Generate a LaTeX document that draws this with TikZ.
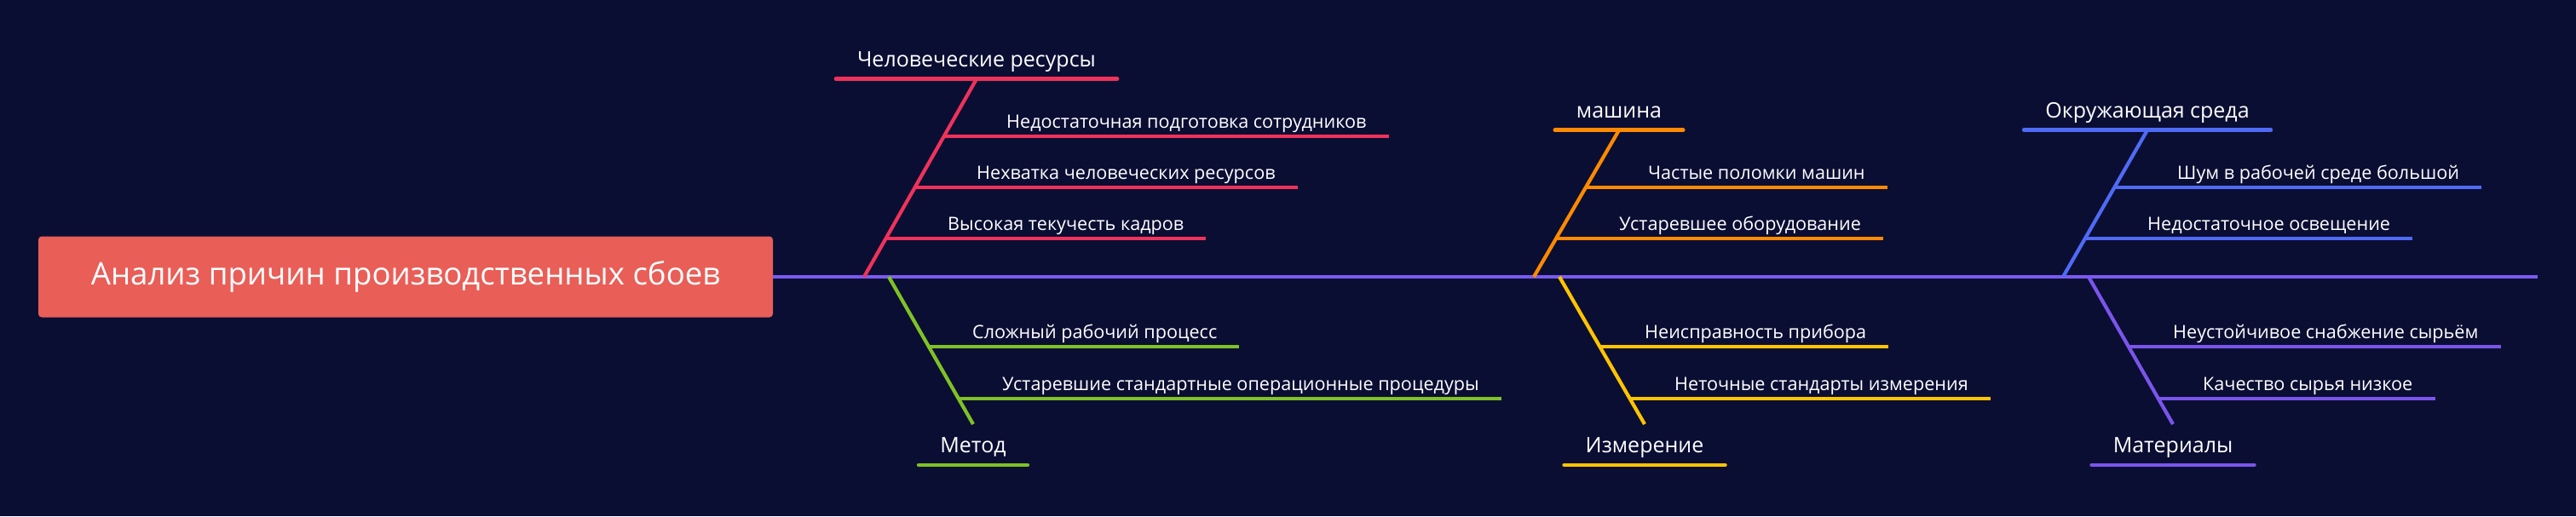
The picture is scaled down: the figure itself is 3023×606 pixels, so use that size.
\documentclass[tikz,border=0pt]{standalone}
\usepackage{fontspec}
\setmainfont{Open Sans}
\usetikzlibrary{calc}
\definecolor{cBg}{HTML}{0B0E33}
\definecolor{cBox}{HTML}{E95E57}
\definecolor{cSpine}{HTML}{7A5AF0}
\definecolor{cRed}{HTML}{F0325A}
\definecolor{cGreen}{HTML}{7EC225}
\definecolor{cOrange}{HTML}{FF8A00}
\definecolor{cYellow}{HTML}{FFC400}
\definecolor{cBlue}{HTML}{4F6BF5}
\definecolor{cPurple}{HTML}{7A55EC}
\begin{document}
\begin{tikzpicture}[x=1pt,y=-1pt,
  titlebox/.style={fill=cBox, rounded corners=4pt, minimum width=862pt, minimum height=95pt,
    inner sep=0pt, text=white, font=\fontsize{36.6}{40}\selectfont},
  subtxt/.style={anchor=base west, inner sep=0pt, text=white, font=\fontsize{21.6}{24}\selectfont},
  hdtxt/.style={anchor=base, inner sep=0pt, text=white, font=\fontsize{25}{28}\selectfont},
  spine/.style={draw=cSpine, line width=4.5pt},
  bone/.style={line width=4.2pt},
  hline/.style={line width=4.5pt, line cap=round}]
\fill[cBg] (0,0) rectangle (3023,606);
\useasboundingbox (0,0) rectangle (3023,606);

% title and spine
\node[titlebox] (title) at (476,325) {Анализ причин производственных сбоев};
\coordinate (spE) at (2978,325);
\draw[spine] (title.east) -- (spE);

% ---------- red: upper ----------
\coordinate (r0) at (1014,325);
\coordinate (r1) at (1146,92.7);
\node[hdtxt] (rh) at (1146,78.4) {Человеческие ресурсы};
\draw[hline,cRed] ($(rh.west |- r1)+(-25,0)$) -- ($(rh.east |- r1)+(25,0)$);
\draw[bone,cRed] (r0) -- (r1);
\coordinate (ra) at (1108,160);
\coordinate (rb) at (1074,220);
\coordinate (rc) at (1040,280);
\node[subtxt] (rat) at (1181,150) {Недостаточная подготовка сотрудников};
\node[subtxt] (rbt) at (1146,210) {Нехватка человеческих ресурсов};
\node[subtxt] (rct) at (1112,270) {Высокая текучесть кадров};
\draw[bone,cRed] (ra) -- ($(ra -| rat.east)+(26,0)$);
\draw[bone,cRed] (rb) -- ($(rb -| rbt.east)+(26,0)$);
\draw[bone,cRed] (rc) -- ($(rc -| rct.east)+(26,0)$);

% ---------- orange: upper ----------
\coordinate (o0) at (1800,325);
\coordinate (o1) at (1900,152.7);
\node[hdtxt] (oh) at (1900,138.4) {машина};
\draw[hline,cOrange] ($(oh.west |- o1)+(-25,0)$) -- ($(oh.east |- o1)+(25,0)$);
\draw[bone,cOrange] (o0) -- (o1);
\coordinate (oa) at (1862,220);
\coordinate (ob) at (1827,280);
\node[subtxt] (oat) at (1934,210) {Частые поломки машин};
\node[subtxt] (obt) at (1900,270) {Устаревшее оборудование};
\draw[bone,cOrange] (oa) -- ($(oa -| oat.east)+(26,0)$);
\draw[bone,cOrange] (ob) -- ($(ob -| obt.east)+(26,0)$);

% ---------- blue: upper ----------
\coordinate (b0) at (2421,325);
\coordinate (b1) at (2520,152.7);
\node[hdtxt] (bh) at (2520,138.4) {Окружающая среда};
\draw[hline,cBlue] ($(bh.west |- b1)+(-25,0)$) -- ($(bh.east |- b1)+(25,0)$);
\draw[bone,cBlue] (b0) -- (b1);
\coordinate (ba) at (2482,220);
\coordinate (bb) at (2448,280);
\node[subtxt] (bat) at (2555,210) {Шум в рабочей среде большой};
\node[subtxt] (bbt) at (2520,270) {Недостаточное освещение};
\draw[bone,cBlue] (ba) -- ($(ba -| bat.east)+(26,0)$);
\draw[bone,cBlue] (bb) -- ($(bb -| bbt.east)+(26,0)$);

% ---------- green: lower ----------
\coordinate (g0) at (1043,325);
\coordinate (g1) at (1142,498);
\coordinate (gh0) at (1142,546);
\node[hdtxt] (gh) at (1142,531.6) {Метод};
\draw[hline,cGreen] ($(gh.west |- gh0)+(-25,0)$) -- ($(gh.east |- gh0)+(25,0)$);
\draw[bone,cGreen] (g0) -- (g1);
\coordinate (ga) at (1090,407);
\coordinate (gb) at (1125,468);
\node[subtxt] (gat) at (1141,397) {Сложный рабочий процесс};
\node[subtxt] (gbt) at (1176,458) {Устаревшие стандартные операционные процедуры};
\draw[bone,cGreen] (ga) -- ($(ga -| gat.east)+(26,0)$);
\draw[bone,cGreen] (gb) -- ($(gb -| gbt.east)+(26,0)$);

% ---------- yellow: lower ----------
\coordinate (y0) at (1830,325);
\coordinate (y1) at (1930,498);
\coordinate (yh0) at (1930,546);
\node[hdtxt] (yh) at (1930,531.6) {Измерение};
\draw[hline,cYellow] ($(yh.west |- yh0)+(-25,0)$) -- ($(yh.east |- yh0)+(25,0)$);
\draw[bone,cYellow] (y0) -- (y1);
\coordinate (ya) at (1878,407);
\coordinate (yb) at (1913,468);
\node[subtxt] (yat) at (1930,397) {Неисправность прибора};
\node[subtxt] (ybt) at (1965,458) {Неточные стандарты измерения};
\draw[bone,cYellow] (ya) -- ($(ya -| yat.east)+(26,0)$);
\draw[bone,cYellow] (yb) -- ($(yb -| ybt.east)+(26,0)$);

% ---------- purple: lower ----------
\coordinate (p0) at (2451,325);
\coordinate (p1) at (2550,498);
\coordinate (ph0) at (2550,546);
\node[hdtxt] (ph) at (2550,531.6) {Материалы};
\draw[hline,cPurple] ($(ph.west |- ph0)+(-25,0)$) -- ($(ph.east |- ph0)+(25,0)$);
\draw[bone,cPurple] (p0) -- (p1);
\coordinate (pa) at (2499,407);
\coordinate (pb) at (2534,468);
\node[subtxt] (pat) at (2550,397) {Неустойчивое снабжение сырьём};
\node[subtxt] (pbt) at (2585,458) {Качество сырья низкое};
\draw[bone,cPurple] (pa) -- ($(pa -| pat.east)+(26,0)$);
\draw[bone,cPurple] (pb) -- ($(pb -| pbt.east)+(26,0)$);
\end{tikzpicture}
\end{document}
